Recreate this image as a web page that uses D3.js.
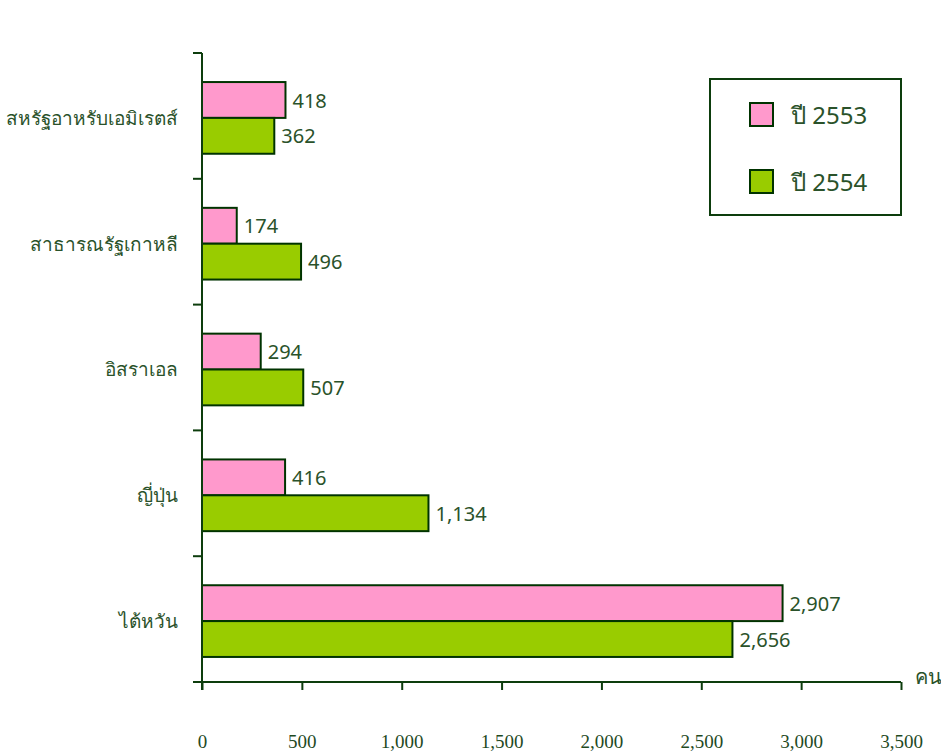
<!DOCTYPE html>
<html>
<head>
<meta charset="utf-8">
<script src="https://cdn.jsdelivr.net/npm/d3@7"></script>
<style>
  body { margin: 0; background: #fff; }
  svg text { fill: #2a522a; }
</style>
</head>
<body>
<script>
const width = 941;
const height = 751;

// data
const countries = ["สหรัฐอาหรับเอมิเรตส์", "สาธารณรัฐเกาหลี", "อิสราเอล", "ญี่ปุ่น", "ไต้หวัน"];
const years = ["ปี 2553", "ปี 2554"];
const values2553 = [418, 174, 294, 416, 2907];
const values2554 = [362, 496, 507, 1134, 2656];
const xTicks = [0, 500, 1000, 1500, 2000, 2500, 3000, 3500];
const colors = ["#ff99cc", "#99cc00"];

const rows = countries.map((c, i) => ({ country: c, vals: [values2553[i], values2554[i]] }));

const svg = d3.select("body").append("svg")
    .attr("width", width)
    .attr("height", height);

const x = d3.scaleLinear().domain([0, 3500]).range([202, 901]);
const y = d3.scaleBand().domain(countries).range([55, 684]).paddingInner(0.43).paddingOuter(0.215);
const ySub = d3.scaleBand().domain([0, 1]).range([0, y.bandwidth()]);

const axisColor = "#0d3d0d";

// bars
const groups = svg.selectAll(".grp")
    .data(rows)
    .enter().append("g")
    .attr("class", "grp")
    .attr("transform", d => `translate(0,${y(d.country)})`);

groups.selectAll("rect")
    .data(d => d.vals.map((v, k) => ({ v, k })))
    .enter().append("rect")
    .attr("x", x(0))
    .attr("y", d => ySub(d.k))
    .attr("width", d => x(d.v) - x(0))
    .attr("height", ySub.bandwidth())
    .attr("fill", d => colors[d.k])
    .attr("stroke", "#003300")
    .attr("stroke-width", 2);

groups.selectAll("text")
    .data(d => d.vals.map((v, k) => ({ v, k })))
    .enter().append("text")
    .attr("x", d => x(d.v) + 7)
    .attr("y", d => ySub(d.k) + ySub.bandwidth() / 2)
    .attr("dy", "0.38em")
    .style("font-family", "'Noto Sans', sans-serif")
    .style("font-size", "20px")
    .text(d => d3.format(",")(d.v));

// y axis line with band boundary ticks
const yBounds = d3.range(countries.length + 1).map(i => 53 + i * (682 - 53) / countries.length);
svg.append("line")
    .attr("x1", x(0)).attr("x2", x(0))
    .attr("y1", 53).attr("y2", 690)
    .attr("stroke", axisColor).attr("stroke-width", 2);
svg.selectAll(".ytick")
    .data(yBounds)
    .enter().append("line")
    .attr("class", "ytick")
    .attr("x1", x(0) - 9).attr("x2", x(0))
    .attr("y1", d => d).attr("y2", d => d)
    .attr("stroke", axisColor).attr("stroke-width", 2);

svg.selectAll(".ylabel")
    .data(countries)
    .enter().append("text")
    .attr("class", "ylabel")
    .attr("x", 178)
    .attr("y", d => y(d) + y.bandwidth() / 2)
    .attr("dy", "0.36em")
    .attr("text-anchor", "end")
    .style("font-family", "'Noto Sans', sans-serif")
    .style("font-size", "19px")
    .text(d => d);

// x axis
const xAxis = svg.append("g")
    .attr("transform", "translate(0,682)")
    .call(d3.axisBottom(x).tickValues(xTicks).tickSize(8).tickPadding(45).tickFormat(d3.format(",")));
xAxis.select(".domain").attr("stroke", axisColor).attr("stroke-width", 2).attr("d", `M${x(0) - 9},0H${x(3500)}`);
xAxis.selectAll(".tick line").attr("stroke", axisColor).attr("stroke-width", 2);
xAxis.selectAll(".tick text")
    .style("font-family", "'Liberation Serif', 'Times New Roman', serif")
    .style("font-size", "19px")
    .style("fill", "#1f4a1f");

svg.append("text")
    .attr("x", 915)
    .attr("y", 684)
    .style("font-family", "'Noto Sans', sans-serif")
    .style("font-size", "20px")
    .text("คน");

// legend
const legend = svg.append("g");
legend.append("rect")
    .attr("x", 710).attr("y", 79)
    .attr("width", 191).attr("height", 136)
    .attr("fill", "#fff")
    .attr("stroke", "#0d3d0d").attr("stroke-width", 2);

const items = legend.selectAll(".item")
    .data(years)
    .enter().append("g")
    .attr("class", "item")
    .attr("transform", (d, i) => `translate(750,${103 + i * 67})`);
items.append("rect")
    .attr("width", 23).attr("height", 23)
    .attr("fill", (d, i) => colors[i])
    .attr("stroke", "#003300").attr("stroke-width", 2);
items.append("text")
    .attr("x", 41)
    .attr("y", 12)
    .attr("dy", "0.38em")
    .style("font-family", "'Noto Sans', sans-serif")
    .style("font-size", "24px")
    .text(d => d);
</script>
</body>
</html>
